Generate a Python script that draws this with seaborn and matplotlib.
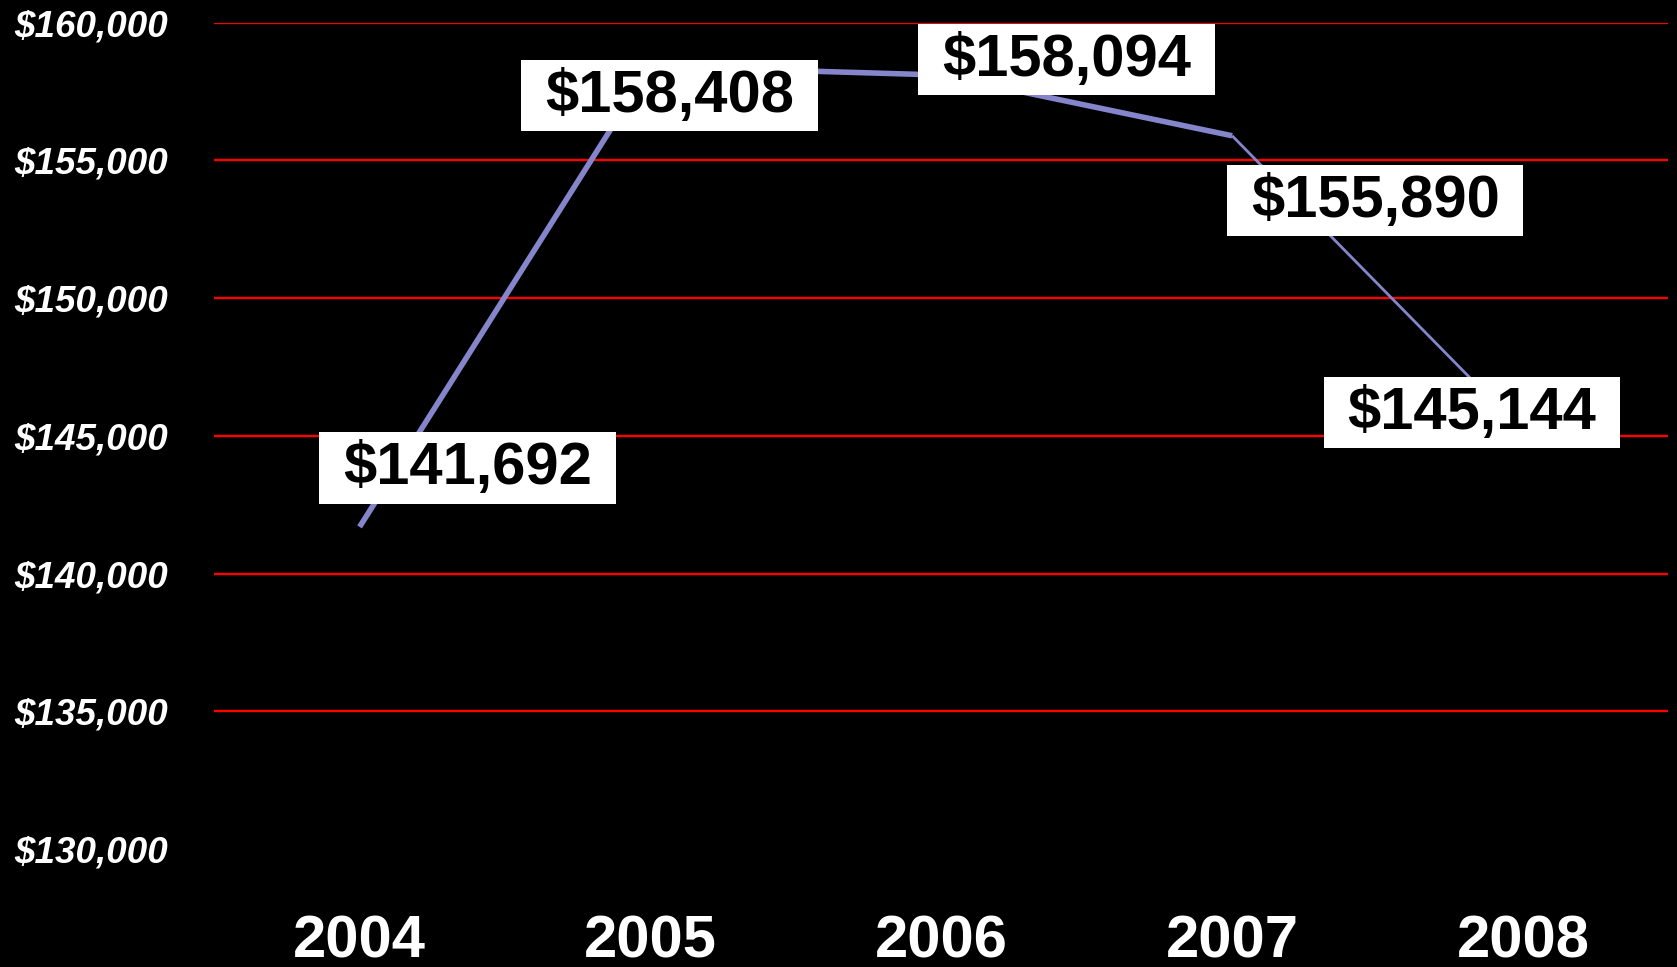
import matplotlib
matplotlib.use("Agg")
import matplotlib.pyplot as plt
from matplotlib.path import Path
from matplotlib.ticker import FuncFormatter
import pandas as pd
import seaborn as sns

# Median price by year
years = ["2004", "2005", "2006", "2007", "2008"]
prices = [141692, 158408, 158094, 155890, 145144]
y_ticks = [130000, 135000, 140000, 145000, 150000, 155000, 160000]

# where each value box sits relative to its point (pixels)
label_offsets = [(108, 58), (19, -30), (125, 15), (143, -66), (-51, 18)]

LINE_COLOR = "#8585CC"
GRID_COLOR = "#FF0000"

sns.set_theme(style="dark", rc={
    "figure.facecolor": "black",
    "axes.facecolor": "black",
    "savefig.facecolor": "black",
})
plt.rcParams["font.family"] = ["Liberation Sans", "DejaVu Sans"]

df = pd.DataFrame({"year": years, "price": prices})

fig = plt.figure(figsize=(16.77, 9.67), dpi=100)
ax = fig.add_axes([0.1277, 0.122, 0.8672, 0.8547])

# heavy stroke through 2007, lighter stroke for the last leg
sns.lineplot(data=df.iloc[:4], x="year", y="price", ax=ax,
             color=LINE_COLOR, linewidth=4.0, sort=False,
             solid_capstyle="butt", zorder=3)
sns.lineplot(data=df.iloc[3:], x="year", y="price", ax=ax,
             color=LINE_COLOR, linewidth=2.0, sort=False,
             solid_capstyle="butt", zorder=3)

ax.set_xlim(-0.5, len(years) - 0.5)
ax.set_ylim(y_ticks[0], y_ticks[-1])
ax.set_yticks(y_ticks)
ax.yaxis.set_major_formatter(FuncFormatter(lambda v, _: f"${v:,.0f}"))

ax.set_xlabel("")
ax.set_ylabel("")
for s in ax.spines.values():
    s.set_visible(False)

ax.yaxis.grid(True, color=GRID_COLOR, linewidth=1.7)
ax.xaxis.grid(False)
ax.set_axisbelow(True)
ax.get_ygridlines()[0].set_visible(False)

ax.tick_params(axis="y", length=0, pad=33, labelcolor="white")
ax.tick_params(axis="x", length=0, pad=47, labelcolor="white")
for t in ax.get_yticklabels():
    t.set_fontsize(26.5)
    t.set_fontweight("bold")
    t.set_fontstyle("italic")
for t in ax.get_xticklabels():
    t.set_fontsize(43)
    t.set_fontweight("bold")


def value_box(x0, y0, width, height, mutation_size):
    """White rectangle with wider side padding than top/bottom padding."""
    px = 0.40 * mutation_size
    pt = 0.15 * mutation_size
    pb = 0.12 * mutation_size
    xa, xb = x0 - px, x0 + width + px
    ya, yb = y0 - pb, y0 + height + pt
    return Path([(xa, ya), (xb, ya), (xb, yb), (xa, yb), (xa, ya)],
                closed=True)


for i, (yr, val) in enumerate(zip(years, prices)):
    dx, dy = label_offsets[i]
    ax.annotate(f"${val:,.0f}", xy=(i, val), xytext=(dx, dy),
                textcoords="offset pixels", ha="center", va="center",
                fontsize=43, fontweight="bold", color="black", zorder=5,
                bbox=dict(boxstyle=value_box, facecolor="white",
                          edgecolor="none"))

fig.savefig("out.png", dpi=100, facecolor="black")
